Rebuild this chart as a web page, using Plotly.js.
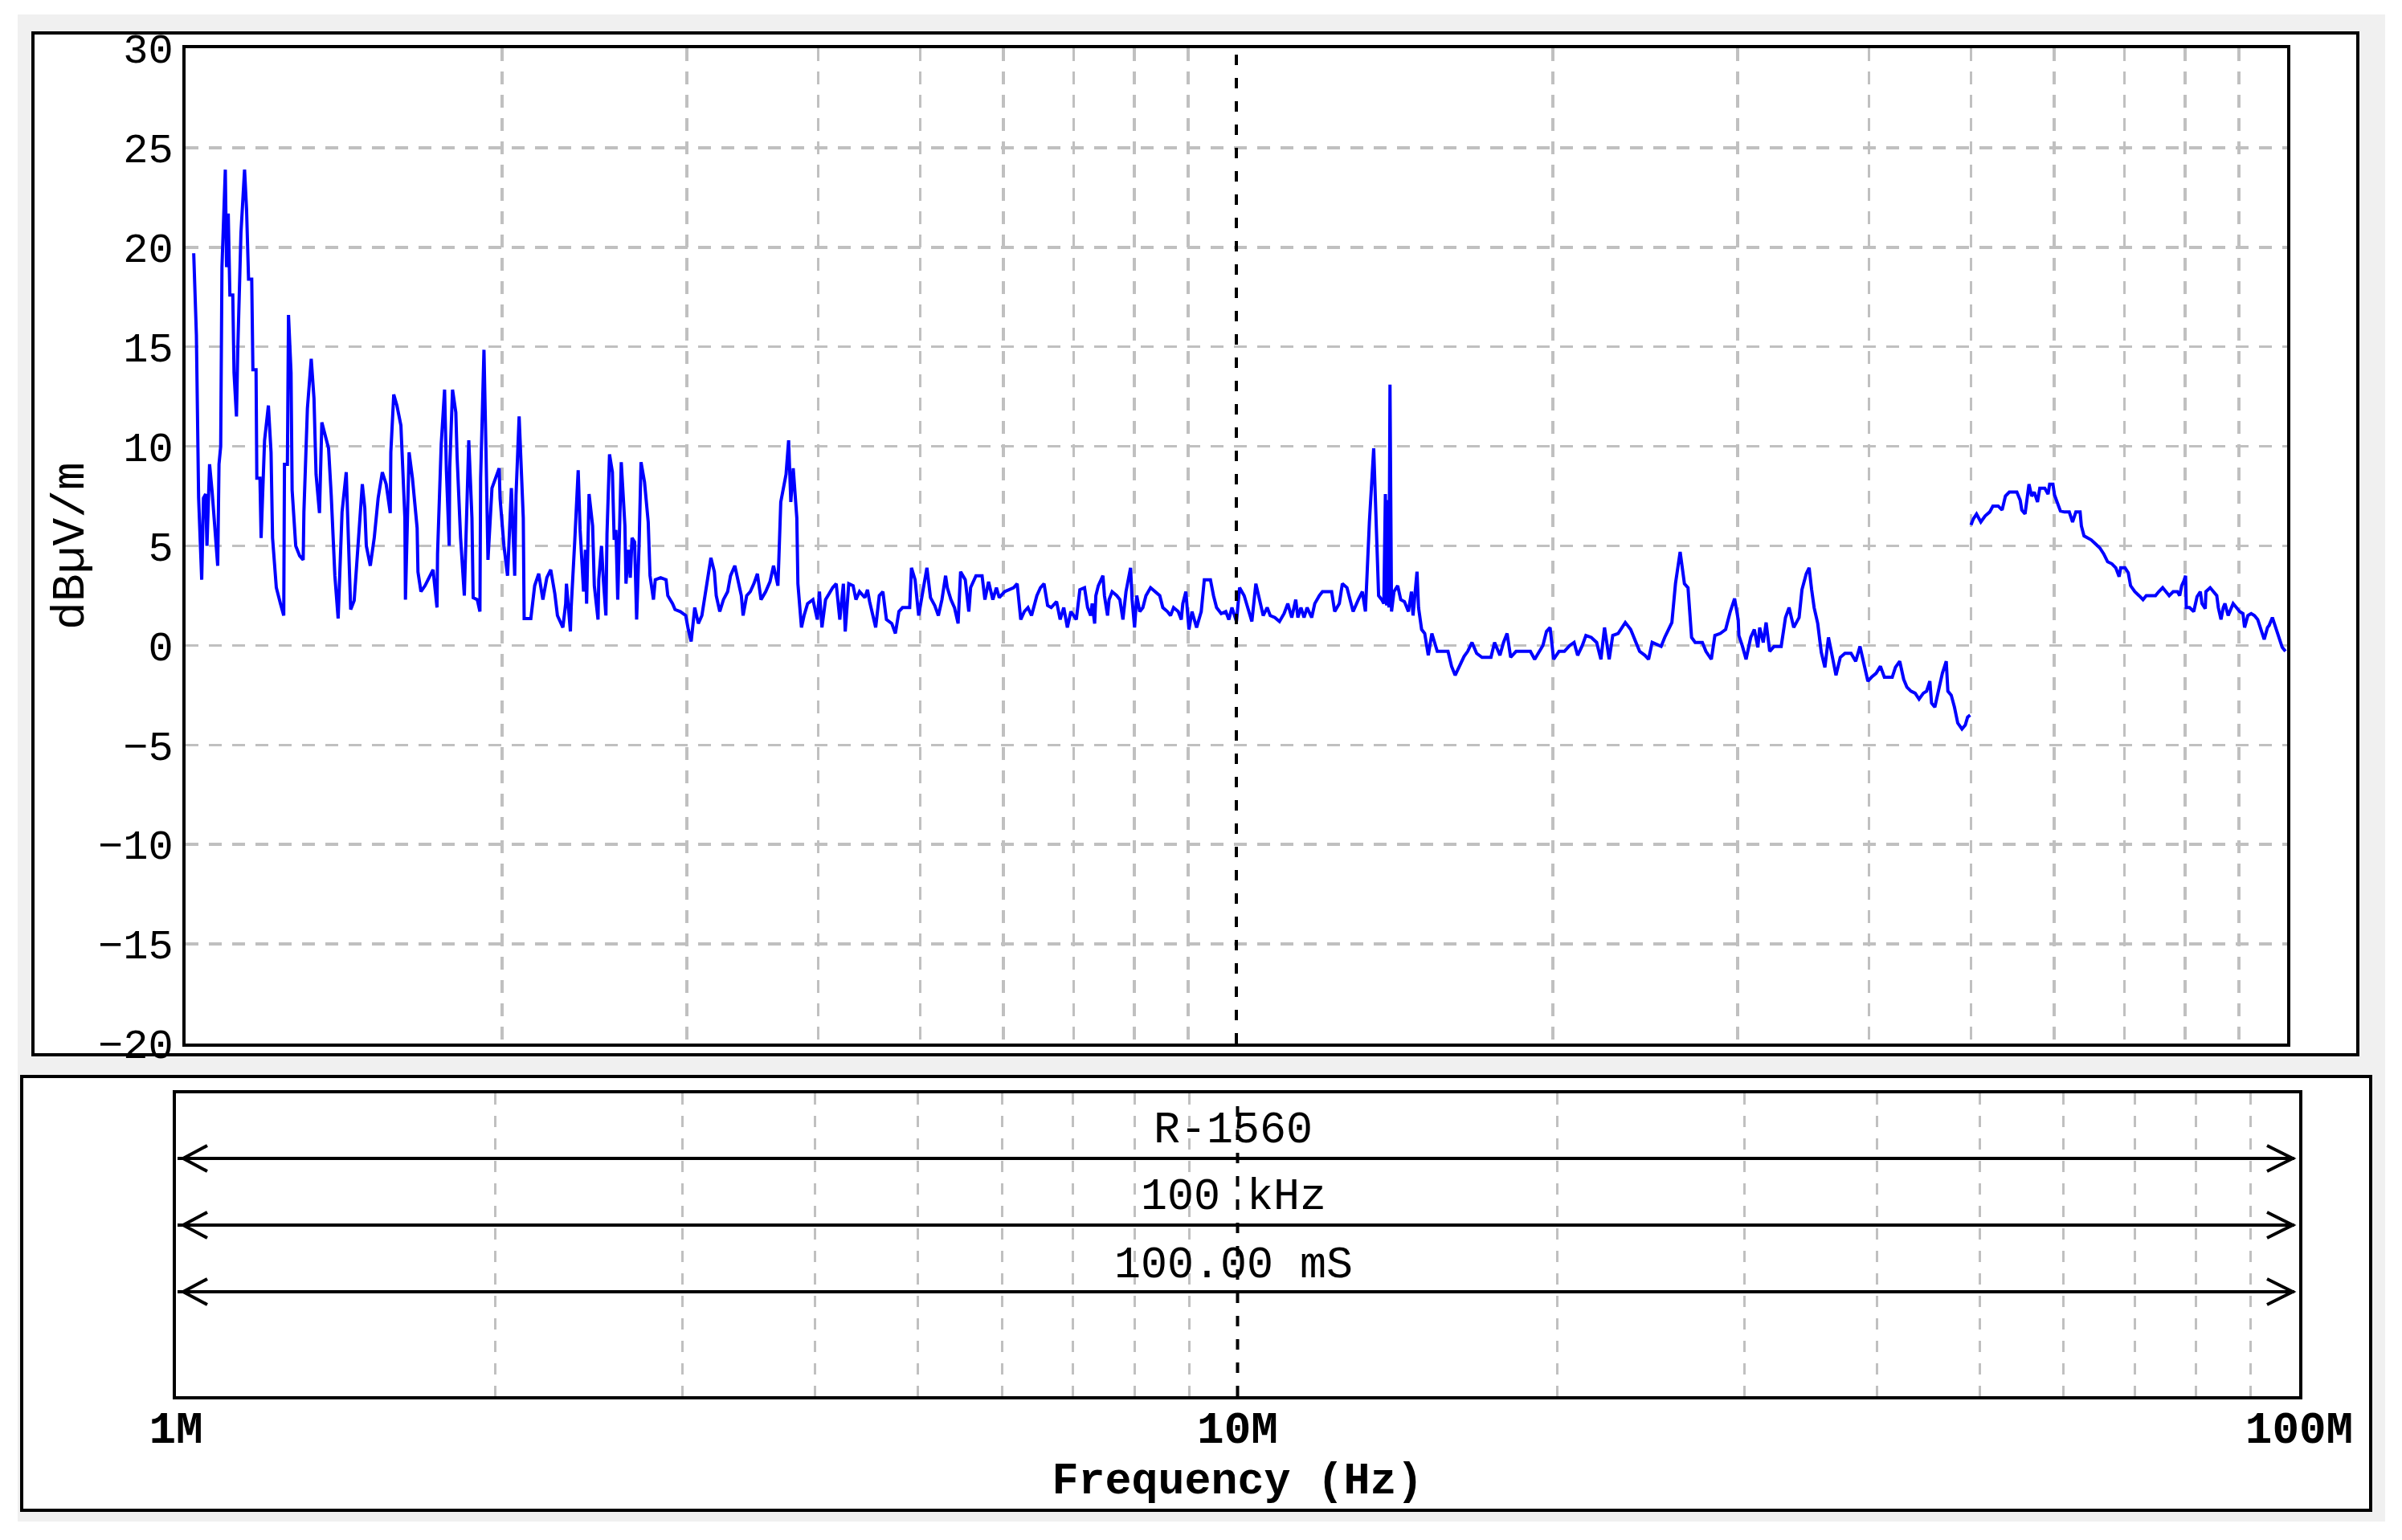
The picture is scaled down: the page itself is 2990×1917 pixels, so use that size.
<!DOCTYPE html>
<html>
<head>
<meta charset="utf-8">
<script src="https://cdn.plot.ly/plotly-3.0.1.min.js"></script>
<style>
html,body{margin:0;padding:0;background:#ffffff;overflow:hidden;}
#chart{width:2990px;height:1917px;}
</style>
</head>
<body>
<div id="chart"></div>
<script>
// ---------------- DATA ----------------
// Frequency in MHz, level in dBµV/m. Band 1: 1–50 MHz
const freqLow = [
1.018,1.024,1.029,1.036,1.040,1.045,1.048,1.054,1.060,1.067,
1.073,1.076,1.080,1.083,1.091,1.094,1.098,1.102,1.109,1.112,
1.118,1.121,1.129,1.138,1.143,1.148,1.156,1.159,1.167,1.169,
1.177,1.180,1.189,1.199,1.206,1.210,1.220,1.231,1.240,1.242,
1.250,1.253,1.260,1.263,1.273,1.284,1.294,1.296,1.306,1.317,
1.325,1.331,1.341,1.348,1.358,1.368,1.376,1.387,1.397,1.409,
1.422,1.430,1.436,1.447,1.461,1.473,1.481,1.486,1.499,1.512,
1.525,1.539,1.552,1.566,1.568,1.578,1.589,1.603,1.617,1.619,
1.632,1.644,1.661,1.664,1.675,1.690,1.705,1.720,1.735,1.737,
1.751,1.764,1.771,1.782,1.784,1.795,1.808,1.813,1.827,1.842,
1.851,1.860,1.873,1.878,1.895,1.906,1.909,1.923,1.932,1.940,
1.957,1.974,1.988,1.992,2.009,2.025,2.033,2.042,2.057,2.063,
2.077,2.096,2.100,2.131,2.149,2.168,2.188,2.207,2.226,2.246,
2.259,2.286,
2.300,2.304,2.324,2.328,2.346,2.364,2.374,2.392,2.402,2.408,
2.421,2.440,2.449,2.469,2.473,2.488,2.498,2.512,2.518,2.532,
2.548,2.558,2.568,2.578,2.598,2.619,2.625,2.639,2.650,2.660,
2.675,2.687,2.702,2.713,2.734,2.756,2.767,2.788,2.799,2.832,
2.866,2.877,2.907,2.923,2.957,2.992,3.009,3.028,3.052,3.076,
3.100,3.112,3.137,3.162,3.186,3.199,3.224,3.250,3.280,3.301,
3.332,3.353,3.380,3.393,3.420,3.447,3.474,3.501,3.529,3.565,
3.599,3.627,3.662,3.670,3.685,3.728,3.749,3.767,3.787,3.817,
3.826,3.856,3.878,3.908,3.954,3.992,4.011,4.033,4.065,4.097,
4.129,4.161,4.194,4.227,4.244,4.277,4.318,4.345,4.379,4.431,
4.456,4.477,4.512,4.537,4.573,4.609,4.645,4.700,4.737,4.774,
4.812,4.888,4.907,4.946,4.985,5.013,5.044,5.076,5.116,5.164,
5.205,5.246,5.288,5.308,5.350,5.392,5.435,5.465,5.521,5.564,
5.586,5.652,5.728,5.764,5.810,5.865,5.911,5.948,6.019,6.138,
6.186,6.235,6.284,6.334,6.384,6.459,6.510,6.561,6.613,6.665,
6.744,6.797,6.851,6.905,6.959,7.042,7.097,7.170,
7.218,7.267,7.291,7.331,7.350,7.390,7.465,7.490,7.541,7.566,
7.617,7.695,7.747,7.799,7.852,7.931,7.958,8.001,8.039,8.093,
8.148,8.203,8.286,8.370,8.455,8.512,8.599,8.657,8.715,8.804,
8.863,8.893,8.953,9.013,9.074,9.166,9.259,9.322,9.448,9.512,
9.576,9.673,9.771,9.837,9.904,10.003,10.071,10.173,10.256,10.346,
10.437,10.521,10.606,10.699,10.771,10.881,10.991,11.103,11.193,11.291,
11.390,11.444,11.521,11.599,11.677,11.795,11.875,11.995,12.076,12.322,
12.405,12.531,12.615,12.743,12.829,12.916,13.065,13.180,13.269,13.385,
13.512,13.585,13.658,13.751,13.815,13.862,13.900,13.940,13.970,14.003,
14.050,14.126,14.241,14.337,14.453,14.580,14.678,14.728,14.857,14.907,
15.008,
15.110,15.229,15.349,15.531,15.901,16.026,16.152,16.305,16.472,16.602,
16.759,16.931,17.131,17.471,17.609,17.818,17.958,18.099,18.242,18.458,
19.047,19.227,19.424,19.577,19.731,19.887,20.043,20.281,20.521,20.764,
20.961,21.126,21.343,21.511,21.766,22.023,22.231,22.407,22.637,22.815,
23.085,23.267,23.450,23.728,24.009,24.198,24.485,24.678,24.873,25.366,
25.566,25.768,25.971,26.176,26.445,26.695,26.905,27.117,27.331,27.764,
27.983,28.315,28.538,28.876,29.218,29.517,29.797,30.032,30.079,30.316,
30.555,30.869,31.112,31.357,31.481,31.729,31.928,32.180,32.485,33.000,
33.312,33.575,33.919,34.321,34.537,34.864,35.084,35.277,35.471,35.750,
36.032,36.316,36.602,36.833,37.211,37.564,37.949,38.459,38.853,39.221,
39.592,39.904,40.218,40.631,41.016,41.372,
42.09,42.39,42.79,43.16,43.47,43.85,44.26,44.64,45.06,45.38,
45.71,45.88,46.21,46.54,46.98,47.38,47.55,47.90,48.24,48.59,
49.04,49.40,49.65,49.93
];
const levelLow = [
19.7,15.6,7.4,3.3,7.4,7.6,5.0,9.1,7.7,5.4,
4.0,9.1,10.0,19.0,23.9,19.0,21.7,17.6,17.6,13.7,
11.5,14.7,20.7,23.9,21.9,18.4,18.4,13.85,13.85,8.4,
8.4,5.4,10.3,12.05,9.7,5.4,2.9,2.1,1.5,9.1,
9.1,16.6,13.7,7.8,5.0,4.5,4.3,6.7,11.9,14.4,
12.4,8.6,6.65,11.2,10.6,9.9,7.55,3.5,1.35,6.7,
8.7,5.2,1.8,2.25,5.2,8.1,6.9,5.0,4.0,5.4,
7.4,8.7,8.1,6.65,9.7,12.6,12.05,11.05,6.4,2.3,
9.7,8.4,5.9,3.7,2.7,3.0,3.4,3.8,1.9,4.6,
10.1,12.85,8.8,5.0,8.9,12.85,11.7,9.5,5.4,2.5,
6.4,10.3,6.4,2.4,2.3,1.7,8.4,14.85,9.5,4.3,
7.9,8.5,8.9,7.4,5.0,3.5,5.7,7.9,3.5,7.55,
11.5,6.4,1.35,1.35,3.0,3.6,2.3,3.4,3.8,2.6,
1.5,0.9,
2.1,3.1,0.7,1.9,5.2,8.8,5.8,2.7,4.8,2.1,
7.6,6.0,3.0,1.3,3.3,5.0,3.3,1.5,5.6,9.6,
8.7,5.3,5.8,2.3,9.2,6.0,3.1,4.8,3.4,5.4,
5.2,1.3,5.2,9.2,8.2,6.2,3.5,2.3,3.3,3.4,
3.3,2.5,2.1,1.8,1.7,1.5,0.8,0.2,1.9,1.1,
1.5,2.1,3.3,4.4,3.7,2.5,1.7,2.3,2.7,3.5,
4.0,3.3,2.5,1.5,2.5,2.7,3.1,3.6,2.3,2.7,
3.2,4.0,3.0,4.4,7.2,8.6,10.3,7.2,8.9,6.4,
3.1,0.9,1.5,2.1,2.3,1.3,2.7,0.9,2.3,2.6,
2.9,3.1,1.3,3.1,0.7,3.1,3.0,2.3,2.7,2.4,
2.8,2.2,1.5,0.9,2.5,2.7,1.3,1.1,0.6,1.7,
1.9,1.9,3.9,3.3,1.5,2.3,3.1,3.9,2.4,2.0,
1.5,2.3,3.5,2.9,2.3,1.9,1.1,3.7,3.3,1.7,
2.9,3.5,3.5,2.3,3.2,2.3,2.9,2.4,2.7,2.9,
3.1,1.3,1.7,1.9,1.5,2.5,2.9,3.1,2.0,1.9,
2.2,1.3,1.9,0.9,1.7,1.3,2.8,2.9,
1.9,1.5,2.1,1.1,2.5,3.0,3.5,2.5,1.5,2.3,
2.7,2.5,2.3,1.3,2.7,3.9,2.3,0.9,2.5,1.7,
1.9,2.5,2.9,2.7,2.5,1.9,1.7,1.5,1.9,1.7,
1.3,2.1,2.7,0.8,1.7,0.9,1.7,3.3,3.3,2.5,
1.9,1.6,1.7,1.3,1.9,1.2,2.9,2.5,1.9,1.2,
3.1,2.3,1.5,1.9,1.5,1.4,1.2,1.6,2.1,1.4,
2.3,1.4,1.9,1.4,1.9,1.4,2.1,2.5,2.7,2.7,
1.7,2.1,3.1,2.9,2.3,1.7,2.3,2.7,1.7,6.2,
9.9,6.2,2.5,2.3,2.1,7.6,2.0,7.3,1.9,13.1,
1.7,2.7,3.0,2.3,2.2,1.7,2.7,1.5,3.7,1.9,
0.8,
0.6,-0.5,0.6,-0.3,-0.3,-1.05,-1.5,-1.0,-0.55,-0.3,
0.15,-0.4,-0.6,-0.6,0.15,-0.5,0.15,0.6,-0.6,-0.3,
-0.3,-0.7,-0.3,0.0,0.7,0.9,-0.7,-0.3,-0.3,0.0,
0.15,-0.5,0.0,0.5,0.4,0.15,-0.7,0.9,-0.7,0.5,
0.6,0.9,1.15,0.8,0.15,-0.3,-0.5,-0.7,0.15,-0.05,
0.4,0.8,1.15,3.1,4.7,3.1,2.9,0.4,0.15,0.15,
-0.3,-0.7,0.5,0.6,0.8,1.7,2.35,1.3,0.5,-0.05,
-0.7,0.4,0.8,-0.1,0.9,0.15,1.15,-0.3,-0.05,-0.05,
1.4,1.9,0.9,1.4,2.8,3.6,3.9,2.8,1.9,1.1,
-0.35,-1.1,0.4,-0.3,-1.5,-0.6,-0.4,-0.4,-0.8,-0.05,
-1.1,-1.8,-1.6,-1.4,-1.05,-1.6,
-1.6,-1.1,-0.8,-1.7,-2.1,-2.3,-2.4,-2.7,-2.4,-2.3,
-1.8,-2.9,-3.1,-2.4,-1.4,-0.8,-2.3,-2.5,-3.1,-3.9,
-4.2,-4.0,-3.6,-3.5
];
// Band 2: 50–100 MHz
const freqHigh = [
50.02,50.27,50.63,51.11,51.59,52.11,52.48,53.09,53.55,53.94,
54.40,55.31,55.71,55.91,56.31,56.80,57.13,57.46,57.87,58.16,
58.79,59.22,59.43,59.86,60.07,60.50,60.85,61.38,62.04,62.49,
62.94,63.53,63.71,64.08,64.63,65.10,65.71,66.33,66.90,67.48,
68.11,68.70,69.20,69.45,70.10,70.60,70.96,71.62,72.29,72.92,
73.44,74.24,74.94,75.48,76.13,76.68,77.23,77.90,78.63,79.03,
79.37,79.77,80.05,80.17,80.75,81.50,82.09,82.68,82.98,83.58,
83.70,84.48,85.09,85.71,86.01,86.51,86.94,87.26,87.88,88.52,
88.84,89.48,90.12,90.77,91.10,91.76,92.42,93.09,93.76,94.43,
95.10,95.79,96.13,96.82,97.51,98.43,98.93,99.64
];
const levelHigh = [
6.05,6.35,6.6,6.2,6.5,6.7,7.0,7.0,6.8,7.5,
7.7,7.7,7.3,6.8,6.6,8.1,7.5,7.7,7.2,7.9,
7.9,7.6,8.1,8.1,7.55,7.15,6.75,6.7,6.7,6.2,
6.7,6.7,6.0,5.5,5.4,5.3,5.1,4.9,4.6,4.2,
4.1,3.9,3.45,3.9,3.9,3.65,3.0,2.7,2.5,2.3,
2.5,2.5,2.5,2.7,2.9,2.7,2.5,2.7,2.7,2.5,
3.0,3.25,3.5,1.9,1.9,1.7,2.45,2.7,2.1,1.85,
2.7,2.9,2.7,2.5,1.9,1.3,1.9,2.1,1.5,1.9,
2.1,1.9,1.7,1.6,0.9,1.5,1.6,1.5,1.3,0.8,
0.3,0.9,1.0,1.4,0.9,0.3,-0.1,-0.3
];
const levelTicks = [-20,-15,-10,-5,0,5,10,15,20,25,30];
const minorFreqs = [2,3,4,5,6,7,8,9,20,30,40,50,60,70,80,90];
const markerFreq = 10;
const decadeFreqs = [1,10,100];
const decadeLabels = ['1M','10M','100M'];
const infoLines = ['R-1560','100 kHz','100.00 mS'];
const yTitle = 'dBµV/m';
const xTitle = 'Frequency (Hz)';

// ---------------- LAYOUT ----------------
const W = 2990, H = 1917;
const px = v => v / W;
const py = v => 1 - v / H;
const FONT = '"Liberation Mono", "DejaVu Sans Mono", monospace';
const gridGray = '#c0c0c0';

function lineTrace(x, y) {
  return {x: x, y: y, xaxis: 'x', yaxis: 'y', type: 'scatter', mode: 'lines',
          line: {color: '#0000ff', width: 4}, hoverinfo: 'skip', showlegend: false};
}
const data = [lineTrace(freqLow, levelLow), lineTrace(freqHigh, levelHigh)];

const shapes = [
  {type:'rect', xref:'paper', yref:'paper', x0:px(22), x1:px(2969), y0:py(1894), y1:py(18),
   fillcolor:'#f0f0f0', line:{width:0}, layer:'below'},
  {type:'rect', xref:'paper', yref:'paper', x0:px(41), x1:px(2935), y0:py(1313), y1:py(41),
   fillcolor:'#ffffff', line:{color:'#000000', width:4}, layer:'below'},
  {type:'rect', xref:'paper', yref:'paper', x0:px(27), x1:px(2951), y0:py(1880), y1:py(1340),
   fillcolor:'#ffffff', line:{color:'#000000', width:4}, layer:'below'},
  {type:'line', xref:'x', yref:'y domain', x0:markerFreq, x1:markerFreq, y0:0, y1:1,
   line:{color:'#000000', width:4, dash:'13px,16px'}},
  {type:'line', xref:'x2', yref:'y2 domain', x0:markerFreq, x1:markerFreq, y0:0, y1:1,
   line:{color:'#000000', width:4, dash:'13px,16px'}}
];
const arrowRows = [1442, 1525, 1608];
const textRows = [1407, 1490, 1575];
arrowRows.forEach(function (yy) {
  shapes.push({type:'line', xref:'paper', yref:'paper', x0:px(221), x1:px(2856), y0:py(yy), y1:py(yy),
               line:{color:'#000000', width:4}});
  shapes.push({type:'path', xref:'paper', yref:'paper', fillcolor:'rgba(0,0,0,0)',
               path:'M' + px(258) + ',' + py(yy - 16) + ' L' + px(228) + ',' + py(yy) + ' L' + px(258) + ',' + py(yy + 16),
               line:{color:'#000000', width:4}});
  shapes.push({type:'path', xref:'paper', yref:'paper', fillcolor:'rgba(0,0,0,0)',
               path:'M' + px(2822) + ',' + py(yy - 16) + ' L' + px(2854) + ',' + py(yy) + ' L' + px(2822) + ',' + py(yy + 16),
               line:{color:'#000000', width:4}});
});
const annotations = infoLines.map(function (t, i) {
  return {text: t, xref:'paper', yref:'paper', x: px(1535), y: py(textRows[i]),
          xanchor:'center', yanchor:'middle', showarrow:false,
          font:{family: FONT, size: 55, color:'#000000'}};
});

const layout = {
  width: W, height: H,
  margin: {l:0, r:0, t:0, b:0, pad:0},
  paper_bgcolor: '#ffffff',
  plot_bgcolor: 'rgba(0,0,0,0)',
  showlegend: false,
  hovermode: false,
  font: {family: FONT, color: '#000000', size: 50},
  xaxis: {
    type:'log', range:[0,2], domain:[px(231), px(2847)], anchor:'y',
    tickmode:'array', tickvals: minorFreqs, showticklabels:false, ticks:'',
    showgrid:true, gridcolor:gridGray, gridwidth:3.5, griddash:'16px,13px',
    showline:true, mirror:true, linecolor:'#000000', linewidth:4, zeroline:false, fixedrange:true
  },
  yaxis: {
    range:[-20,30], domain:[py(1299), py(60)], anchor:'x',
    tickmode:'array', tickvals: levelTicks, ticks:'', ticklabelstandoff: 1,
    tickfont:{family:FONT, size:52, color:'#000000'},
    showgrid:true, gridcolor:gridGray, gridwidth:3.5, griddash:'16px,13px',
    showline:true, mirror:true, linecolor:'#000000', linewidth:4, zeroline:false, fixedrange:true,
    title:{text: yTitle, font:{family:FONT, size:58, color:'#000000'}, standoff: 0}
  },
  xaxis2: {
    type:'log', range:[0,2], domain:[px(219), px(2862)], anchor:'y2',
    tickmode:'array', tickvals: decadeFreqs, ticktext: decadeLabels, ticks:'', ticklabelstandoff: -13,
    tickfont:{family:FONT, size:56, color:'#000000', weight:'bold'},
    showgrid:false,
    minor:{tickmode:'array', tickvals: minorFreqs, showgrid:true, gridcolor:gridGray, gridwidth:3, griddash:'14px,14px', ticks:''},
    showline:true, mirror:true, linecolor:'#000000', linewidth:4, zeroline:false, fixedrange:true,
    title:{text: xTitle, font:{family:FONT, size:55, color:'#000000', weight:'bold'}, standoff: 1}
  },
  yaxis2: {
    range:[0,1], domain:[py(1738), py(1361)], anchor:'x2',
    showticklabels:false, ticks:'', showgrid:false, zeroline:false, fixedrange:true,
    showline:true, mirror:true, linecolor:'#000000', linewidth:4
  },
  shapes: shapes,
  annotations: annotations
};

Plotly.newPlot('chart', data, layout, {staticPlot:true, displayModeBar:false});
</script>
</body>
</html>
